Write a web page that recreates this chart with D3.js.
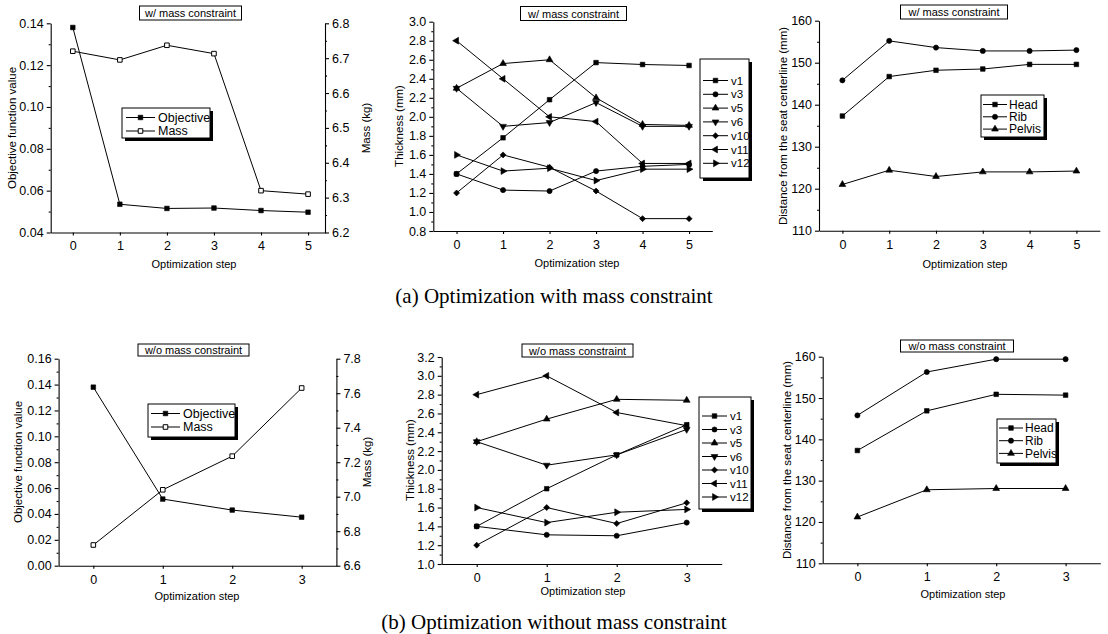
<!DOCTYPE html>
<html>
<head>
<meta charset="utf-8">
<script src="https://cdn.jsdelivr.net/npm/d3@7"></script>
<style>
  body { margin: 0; background: #fff; }
  text { font-family: "Liberation Sans", Arial, sans-serif; fill: #000; }
</style>
</head>
<body>
<svg id="fig" width="1108" height="634"></svg>
<script>
// steps of the two runs
var stepsA = [0, 1, 2, 3, 4, 5];
var stepsB = [0, 1, 2, 3];

// objective / mass
var objA  = [0.138, 0.0535, 0.0515, 0.0517, 0.0505, 0.0497];
var massA = [6.72, 6.695, 6.737, 6.713, 6.32, 6.31];
var objB  = [0.138, 0.0515, 0.043, 0.0375];
var massB = [6.72, 7.04, 7.235, 7.63];

// thickness, one array per variable
var varNames = ["v1", "v3", "v5", "v6", "v10", "v11", "v12"];
var thickA = [
  [1.40, 1.78, 2.18, 2.57, 2.55, 2.54],
  [1.40, 1.23, 1.22, 1.43, 1.48, 1.50],
  [2.30, 2.56, 2.60, 2.20, 1.92, 1.91],
  [2.30, 1.90, 1.94, 2.15, 1.90, 1.90],
  [1.20, 1.60, 1.47, 1.22, 0.93, 0.93],
  [2.80, 2.40, 2.00, 1.95, 1.51, 1.51],
  [1.60, 1.43, 1.46, 1.33, 1.45, 1.45]
];
var thickB = [
  [1.40, 1.80, 2.16, 2.48],
  [1.40, 1.31, 1.30, 1.44],
  [2.30, 2.54, 2.75, 2.74],
  [2.30, 2.05, 2.16, 2.43],
  [1.20, 1.60, 1.43, 1.65],
  [2.80, 3.00, 2.61, 2.47],
  [1.60, 1.44, 1.55, 1.58]
];

// distance from seat centerline
var bodyNames = ["Head", "Rib", "Pelvis"];
var distA = [
  [137.3, 146.7, 148.2, 148.5, 149.6, 149.6],
  [145.8, 155.2, 153.6, 152.8, 152.8, 153.0],
  [121.0, 124.4, 122.9, 124.0, 124.0, 124.2]
];
var distB = [
  [137.3, 146.9, 150.9, 150.7],
  [145.8, 156.3, 159.4, 159.4],
  [121.2, 127.8, 128.1, 128.1]
];

// tick values
var objTicksA  = [0.04, 0.06, 0.08, 0.10, 0.12, 0.14];
var massTicksA = [6.2, 6.3, 6.4, 6.5, 6.6, 6.7, 6.8];
var objTicksB  = [0.00, 0.02, 0.04, 0.06, 0.08, 0.10, 0.12, 0.14, 0.16];
var massTicksB = [6.6, 6.8, 7.0, 7.2, 7.4, 7.6, 7.8];
var thickTicksA = [0.8, 1.0, 1.2, 1.4, 1.6, 1.8, 2.0, 2.2, 2.4, 2.6, 2.8, 3.0];
var thickTicksB = [1.0, 1.2, 1.4, 1.6, 1.8, 2.0, 2.2, 2.4, 2.6, 2.8, 3.0, 3.2];
var distTicks  = [110, 120, 130, 140, 150, 160];

var varSyms  = ["square", "circle", "up", "down", "diamond", "left", "right"];
var bodySyms = ["square", "circle", "up"];

var svg = d3.select("#fig");
svg.append("rect").attr("width", 1108).attr("height", 634).attr("fill", "#fff");

function symPath(kind) {
  if (kind == "square") return d3.symbol(d3.symbolSquare, 21)();
  if (kind == "diamond") return d3.symbol(d3.symbolSquare, 18)();
  if (kind == "circle") return d3.symbol(d3.symbolCircle, 21)();
  return d3.symbol(d3.symbolTriangle, 20)();
}
function symRot(kind) {
  return {diamond: 45, down: 180, left: -90, right: 90}[kind] || 0;
}
function marker(g, kind, cx, cy, open) {
  g.append("path")
    .attr("d", symPath(kind))
    .attr("transform", `translate(${cx},${cy}) rotate(${symRot(kind)})`)
    .attr("fill", open ? "#fff" : "#000")
    .attr("stroke", "#000")
    .attr("stroke-width", open ? 1 : 0.6);
}

function midpoints(arr) {
  var m = [];
  for (var i = 0; i < arr.length - 1; i++) m.push((arr[i] + arr[i + 1]) / 2);
  return m;
}

function styleAxis(sel, fs) {
  sel.attr("font-family", null).attr("font-size", null);
  sel.selectAll("text").style("font-size", fs + "px");
  sel.selectAll("path, line").attr("stroke", "#000").attr("stroke-width", 1.1);
}

function panel(c) {
  var g = svg.append("g");
  var x = d3.scaleLinear().domain(c.xDomain).range(c.xRange);
  var y = d3.scaleLinear().domain(c.yDomain).range(c.yRange);
  var yBot = c.yRange[0], xL = c.xRange[0];

  // bottom axis
  var xa = g.append("g").attr("transform", `translate(0,${yBot})`)
    .call(d3.axisBottom(x).tickValues(c.steps).tickSize(3).tickSizeOuter(0)
      .tickPadding(6).tickFormat(d3.format("d")));
  styleAxis(xa, 12.5);

  // left axis
  var ya = g.append("g").attr("transform", `translate(${xL},0)`)
    .call(d3.axisLeft(y).tickValues(c.yTicks).tickSize(4).tickSizeOuter(0)
      .tickPadding(3).tickFormat(d3.format(c.yFmt)));
  styleAxis(ya, 12.5);
  var ym = g.append("g").attr("transform", `translate(${xL},0)`)
    .call(d3.axisLeft(y).tickValues(midpoints(c.yTicks)).tickSize(2).tickSizeOuter(0).tickFormat(""));
  ym.select(".domain").remove();
  styleAxis(ym, 12);

  var yr = null;
  if (c.right) {
    yr = d3.scaleLinear().domain(c.right.domain).range(c.yRange);
    var ra = g.append("g").attr("transform", `translate(${c.xRange[1]},0)`)
      .call(d3.axisRight(yr).tickValues(c.right.ticks).tickSize(4).tickSizeOuter(0)
        .tickPadding(3).tickFormat(d3.format(c.right.fmt)));
    styleAxis(ra, 12.5);
    var rm = g.append("g").attr("transform", `translate(${c.xRange[1]},0)`)
      .call(d3.axisRight(yr).tickValues(midpoints(c.right.ticks)).tickSize(2).tickSizeOuter(0).tickFormat(""));
    rm.select(".domain").remove();
    styleAxis(rm, 12);
    g.append("text")
      .attr("transform", `translate(${c.right.lx},${c.right.ly}) rotate(-90)`)
      .attr("text-anchor", "middle").attr("dy", "0.35em")
      .style("font-size", "11.5px").text(c.right.label);
  }

  // axis titles
  g.append("text").attr("x", c.xlx).attr("y", c.xly)
    .attr("text-anchor", "middle").attr("dy", "0.35em")
    .style("font-size", "11px").text("Optimization step");
  g.append("text")
    .attr("transform", `translate(${c.ylx},${c.yly}) rotate(-90)`)
    .attr("text-anchor", "middle").attr("dy", "0.35em")
    .style("font-size", "11.5px").text(c.yLabel);

  // series
  c.series.forEach(function(s) {
    var sc = s.right ? yr : y;
    var line = d3.line().x((d, i) => x(c.steps[i])).y(d => sc(d));
    g.append("path").attr("d", line(s.values))
      .attr("fill", "none").attr("stroke", "#000").attr("stroke-width", 1);
  });
  c.series.forEach(function(s) {
    var sc = s.right ? yr : y;
    s.values.forEach(function(v, i) { marker(g, s.sym, x(c.steps[i]), sc(v), s.open); });
  });

  // title box
  var t = c.title;
  g.append("rect").attr("x", t.x).attr("y", t.y).attr("width", t.w).attr("height", t.h)
    .attr("fill", "#fff").attr("stroke", "#000").attr("stroke-width", 1);
  g.append("text").attr("x", t.x + t.w / 2).attr("y", t.y + t.h / 2 + 0.5)
    .attr("text-anchor", "middle").attr("dy", "0.35em")
    .style("font-size", "11px").text(t.text);

  // legend
  var L = c.legend;
  g.append("rect").attr("x", L.x + 3).attr("y", L.y + 3).attr("width", L.w).attr("height", L.h)
    .attr("fill", "#000");
  g.append("rect").attr("x", L.x).attr("y", L.y).attr("width", L.w).attr("height", L.h)
    .attr("fill", "#fff").attr("stroke", "#000").attr("stroke-width", 1);
  c.series.forEach(function(s, i) {
    var ry = L.first + i * L.step;
    g.append("line").attr("x1", L.x + L.lx0).attr("x2", L.x + L.lx1)
      .attr("y1", ry).attr("y2", ry).attr("stroke", "#000").attr("stroke-width", 1);
    marker(g, s.sym, L.x + (L.lx0 + L.lx1) / 2, ry, s.open);
    g.append("text").attr("x", L.x + L.tx).attr("y", ry).attr("dy", "0.35em")
      .style("font-size", L.fs + "px").text(s.name);
  });
}

function thickSeries(data) {
  return varNames.map((n, i) => ({name: n, values: data[i], sym: varSyms[i]}));
}
function distSeries(data) {
  return bodyNames.map((n, i) => ({name: n, values: data[i], sym: bodySyms[i]}));
}

// (a) with mass constraint
panel({
  steps: stepsA, xDomain: [-0.47, 5.36], xRange: [50.7, 325],
  yDomain: [0.04, 0.14], yRange: [232.5, 23.3], yTicks: objTicksA, yFmt: ".2f",
  yLabel: "Objective function value", ylx: 12, yly: 128, xlx: 194, xly: 264,
  right: {domain: [6.2, 6.8], ticks: massTicksA, fmt: ".1f", label: "Mass (kg)", lx: 366, ly: 128},
  series: [
    {name: "Objective", values: objA, sym: "square"},
    {name: "Mass", values: massA, sym: "square", open: true, right: true}
  ],
  title: {x: 139.5, y: 6, w: 102, h: 14, text: "w/ mass constraint"},
  legend: {x: 122, y: 108, w: 88, h: 30, first: 117.5, step: 13.5, lx0: 4, lx1: 33, tx: 36, fs: 12.5}
});
panel({
  steps: stepsA, xDomain: [-0.5, 5.5], xRange: [433.3, 712.3],
  yDomain: [0.8, 3.0], yRange: [231, 21.7], yTicks: thickTicksA, yFmt: ".1f",
  yLabel: "Thickness (mm)", ylx: 399, yly: 126, xlx: 577, xly: 263,
  series: thickSeries(thickA),
  title: {x: 520.5, y: 6.5, w: 106, h: 14, text: "w/ mass constraint"},
  legend: {x: 700, y: 59, w: 49, h: 119, first: 80.5, step: 13.8, lx0: 3, lx1: 28, tx: 31, fs: 11.5}
});
panel({
  steps: stepsA, xDomain: [-0.5, 5.5], xRange: [819, 1099.8],
  yDomain: [110, 160], yRange: [230.7, 20.7], yTicks: distTicks, yFmt: "d",
  yLabel: "Distance from the seat centerline (mm)", ylx: 783, yly: 126, xlx: 965, xly: 264,
  series: distSeries(distA),
  title: {x: 900.5, y: 5, w: 107, h: 14, text: "w/ mass constraint"},
  legend: {x: 981, y: 95, w: 63, h: 42, first: 104.5, step: 12.3, lx0: 2, lx1: 26, tx: 28, fs: 12}
});

// (b) without mass constraint
panel({
  steps: stepsB, xDomain: [-0.5, 3.5], xRange: [58.6, 336.4],
  yDomain: [0, 0.16], yRange: [565.7, 358.7], yTicks: objTicksB, yFmt: ".2f",
  yLabel: "Objective function value", ylx: 18, yly: 462, xlx: 197, xly: 596,
  right: {domain: [6.6, 7.8], ticks: massTicksB, fmt: ".1f", label: "Mass (kg)", lx: 367, ly: 462},
  series: [
    {name: "Objective", values: objB, sym: "square"},
    {name: "Mass", values: massB, sym: "square", open: true, right: true}
  ],
  title: {x: 138, y: 344, w: 111, h: 12, text: "w/o mass constraint"},
  legend: {x: 148, y: 404, w: 87, h: 33, first: 413.5, step: 13.5, lx0: 3, lx1: 32, tx: 35, fs: 12.5}
});
panel({
  steps: stepsB, xDomain: [-0.5, 3.5], xRange: [441.7, 721.7],
  yDomain: [1.0, 3.2], yRange: [564, 357], yTicks: thickTicksB, yFmt: ".1f",
  yLabel: "Thickness (mm)", ylx: 410, yly: 460, xlx: 583, xly: 591,
  series: thickSeries(thickB),
  title: {x: 522, y: 344, w: 111, h: 13, text: "w/o mass constraint"},
  legend: {x: 699, y: 397, w: 52, h: 112, first: 416, step: 13.5, lx0: 3, lx1: 28, tx: 31, fs: 11.5}
});
panel({
  steps: stepsB, xDomain: [-0.5, 3.5], xRange: [822.7, 1100.3],
  yDomain: [110, 160], yRange: [563.3, 356.7], yTicks: distTicks, yFmt: "d",
  yLabel: "Distance from the seat centerline (mm)", ylx: 787, yly: 460, xlx: 963, xly: 594,
  series: distSeries(distB),
  title: {x: 900.5, y: 340, w: 113, h: 12, text: "w/o mass constraint"},
  legend: {x: 997, y: 419, w: 59, h: 44, first: 428, step: 12.7, lx0: 2, lx1: 26, tx: 28, fs: 12}
});

// sub-captions
svg.append("text").attr("x", 554).attr("y", 296).attr("dy", "0.35em")
  .attr("text-anchor", "middle")
  .style("font-family", "'Liberation Serif', 'Times New Roman', serif").style("font-size", "21px")
  .text("(a) Optimization with mass constraint");
svg.append("text").attr("x", 554).attr("y", 622).attr("dy", "0.35em")
  .attr("text-anchor", "middle")
  .style("font-family", "'Liberation Serif', 'Times New Roman', serif").style("font-size", "21px")
  .text("(b) Optimization without mass constraint");
</script>
</body>
</html>
